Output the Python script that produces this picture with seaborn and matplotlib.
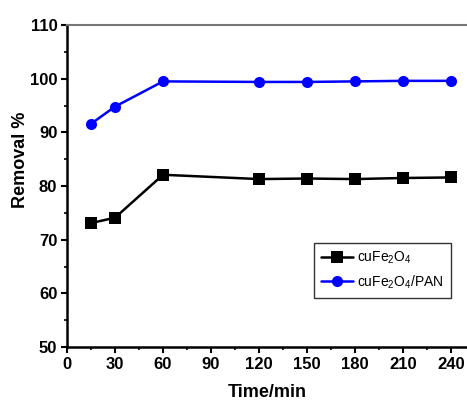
import numpy as np
import pandas as pd
import matplotlib
matplotlib.use("Agg")
import matplotlib.pyplot as plt
import seaborn as sns
from matplotlib.ticker import MultipleLocator

time_min = [15, 30, 60, 120, 150, 180, 210, 240]
removal_cufe2o4 = [73.1, 74.1, 82.1, 81.3, 81.4, 81.3, 81.5, 81.6]
removal_cufe2o4_pan = [91.6, 94.8, 99.5, 99.4, 99.4, 99.5, 99.6, 99.6]
series_labels = ["cuFe$_\\mathregular{2}$O$_\\mathregular{4}$",
                 "cuFe$_\\mathregular{2}$O$_\\mathregular{4}$/PAN"]

df = pd.DataFrame({
    "time": time_min * 2,
    "removal": removal_cufe2o4 + removal_cufe2o4_pan,
    "sample": [series_labels[0]] * len(time_min) + [series_labels[1]] * len(time_min),
})

sns.set_theme(style="white")
plt.rcParams["font.family"] = ["Liberation Sans", "DejaVu Sans"]
plt.rcParams["mathtext.default"] = "regular"

fig = plt.figure(figsize=(4.67, 4.04), dpi=100)
ax = fig.add_axes([0.1435, 0.141, 0.8565, 0.797])

sns.lineplot(data=df, x="time", y="removal", hue="sample", style="sample",
             palette=["black", "blue"], markers=["s", "o"], dashes=False,
             markersize=8, linewidth=1.8, markeredgewidth=0, ax=ax)

ax.set_xlim(0, 250)
ax.set_ylim(50, 110)
ax.xaxis.set_major_locator(MultipleLocator(30))
ax.xaxis.set_minor_locator(MultipleLocator(15))
ax.yaxis.set_major_locator(MultipleLocator(10))
ax.yaxis.set_minor_locator(MultipleLocator(5))
ax.tick_params(which="major", direction="out", length=4, width=1.5,
               labelsize=12, bottom=True, left=True, color="black",
               labelcolor="black", pad=3)
ax.tick_params(which="minor", direction="out", length=2.5, width=1.2,
               bottom=True, left=True, color="black")
for lbl in ax.get_xticklabels() + ax.get_yticklabels():
    lbl.set_fontweight("bold")

ax.spines["left"].set_linewidth(1.8)
ax.spines["bottom"].set_linewidth(1.8)
ax.spines["left"].set_color("black")
ax.spines["bottom"].set_color("black")
ax.spines["top"].set_color("#777777")
ax.spines["top"].set_linewidth(1.5)
ax.spines["right"].set_visible(False)

ax.set_xlabel("Time/min", fontsize=13, fontweight="bold", color="black")
ax.set_ylabel("Removal %", fontsize=13, fontweight="bold", color="black")
ax.xaxis.set_label_coords(0.5, -0.115)
ax.yaxis.set_label_coords(-0.095, 0.58)

leg = ax.legend(loc="upper left", bbox_to_anchor=(0.6175, 0.323), frameon=True,
                fancybox=False, edgecolor="black", fontsize=10,
                handlelength=2.3, borderpad=0.5, labelspacing=0.5,
                handletextpad=0.3, borderaxespad=0)
leg.get_frame().set_linewidth(1.0)
for t in leg.get_texts():
    t.set_color("black")

fig.savefig("out.png", dpi=100)
